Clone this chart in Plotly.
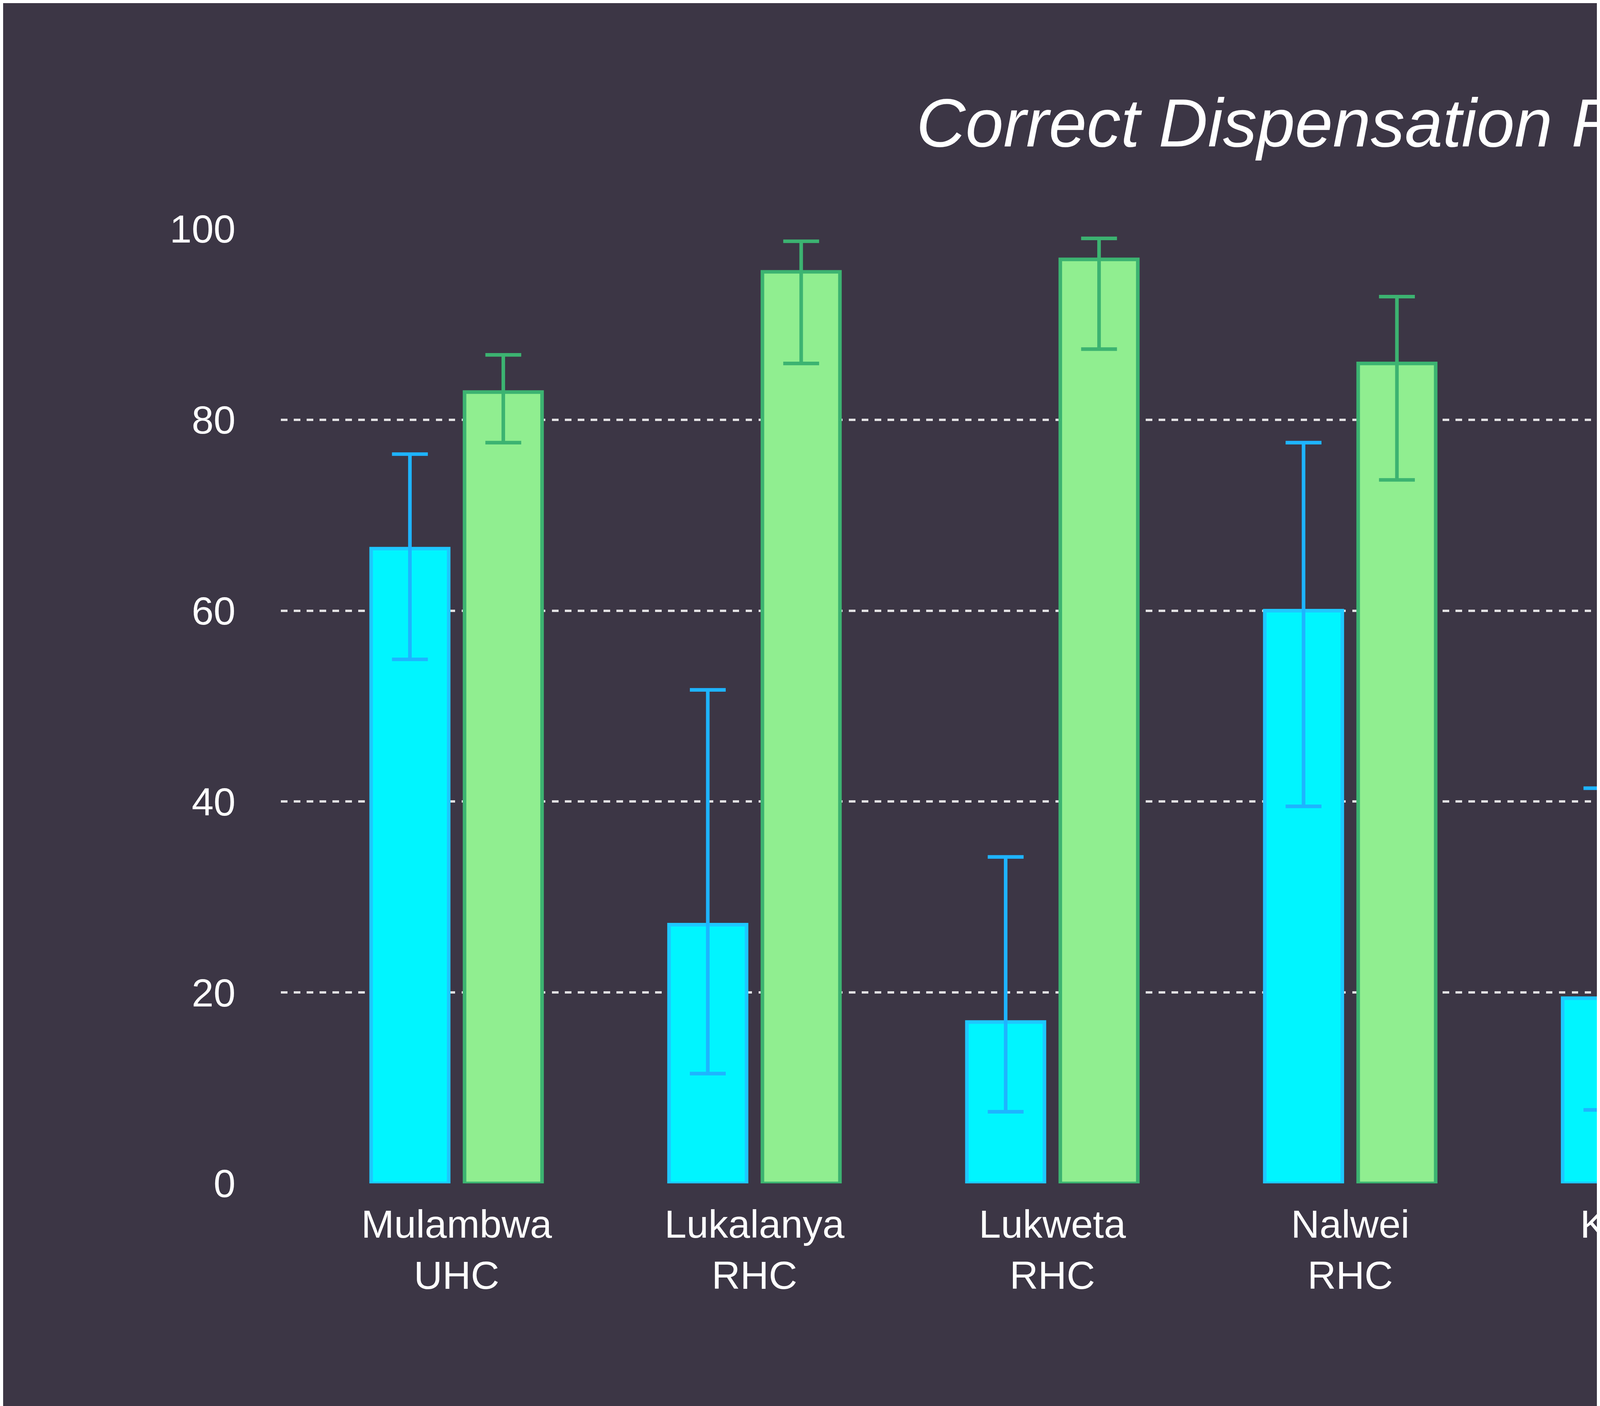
import plotly.graph_objects as go

facilities = ["Mulambwa<br>UHC", "Lukalanya<br>RHC", "Lukweta<br>RHC", "Nalwei<br>RHC", "Kaande<br>HP", "Mweeke<br>HP", "Nasange<br>HP"]
before = [66.5, 27.1, 16.9, 60.0, 19.4, 24.1, 26.9]
before_hi = [76.4, 51.7, 34.2, 77.6, 41.4, 50.0, 44.2]
before_lo = [54.9, 11.5, 7.5, 39.5, 7.7, 9.4, 14.8]
after = [82.9, 95.5, 96.8, 85.9, 89.8, 97.0, 95.5]
after_hi = [86.8, 98.7, 99.0, 92.9, 96.8, 99.0, 98.5]
after_lo = [77.6, 85.9, 87.4, 73.7, 71.6, 88.5, 85.9]

S = 4.59
x = list(range(len(facilities)))

def err(v, hi, lo, color):
    return dict(type="data", symmetric=False,
                array=[h - a for a, h in zip(v, hi)],
                arrayminus=[a - l for a, l in zip(v, lo)],
                color=color, thickness=2 * S, width=10 * S)

fig = go.Figure()
fig.add_trace(go.Bar(x=x, y=before, name="Before<br>Co-pack",
                     marker=dict(color="#00f5ff", line=dict(color="#1ec8ff", width=2 * S)),
                     error_y=err(before, before_hi, before_lo, "#1eb4ff")))
fig.add_trace(go.Bar(x=x, y=after, name="After<br>Co-pack",
                     marker=dict(color="#90ee90", line=dict(color="#3cb371", width=2 * S)),
                     error_y=err(after, after_hi, after_lo, "#3cb371")))

fig.update_layout(
    width=7200, height=3600,
    paper_bgcolor="#3c3645", plot_bgcolor="#3c3645",
    font=dict(family="Liberation Sans, Arial", color="white", size=22 * S),
    title=dict(text="<i>Correct Dispensation Rates by Facility</i>", x=0.53, xanchor="center",
               y=0.915, yanchor="middle", font=dict(size=38 * S, color="white")),
    margin=dict(l=155 * S, r=(1568 - 1490) * S, t=126 * S, b=(784 - 658) * S),
    barmode="group", bargap=0.373, bargroupgap=0.17,
    xaxis=dict(tickmode="array", tickvals=x, ticktext=facilities, range=[-0.59, 7.45],
               showgrid=False, zeroline=False, showline=False, ticks="", ticklabelstandoff=37),
    yaxis=dict(range=[0, 100], tickvals=[0, 20, 40, 60, 80, 100], ticksuffix="%",
               showgrid=True, gridcolor="rgba(255,255,255,0.85)", griddash="dash", gridwidth=1.2 * S,
               zeroline=False, showline=False, ticks="", ticklabelstandoff=115),
    legend=dict(x=0.886, y=0.93, xanchor="left", yanchor="top", bgcolor="rgba(0,0,0,0)",
                font=dict(size=22 * S), tracegroupgap=int(20 * S), itemwidth=int(30 * S)),
)
fig.write_html("out.html")
